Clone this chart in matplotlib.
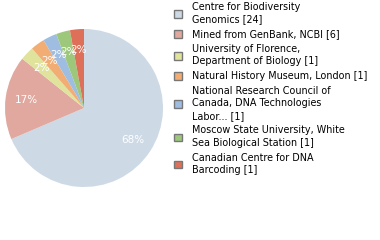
import matplotlib
matplotlib.use("Agg")
import matplotlib.pyplot as plt
from matplotlib.patches import Patch

labels = [
    "Centre for Biodiversity\nGenomics [24]",
    "Mined from GenBank, NCBI [6]",
    "University of Florence,\nDepartment of Biology [1]",
    "Natural History Museum, London [1]",
    "National Research Council of\nCanada, DNA Technologies\nLabor... [1]",
    "Moscow State University, White\nSea Biological Station [1]",
    "Canadian Centre for DNA\nBarcoding [1]",
]
values = [24, 6, 1, 1, 1, 1, 1]
colors = ["#cddae6", "#e0a89e", "#dfe39c", "#f1ad74", "#9fbde1", "#9dc87b", "#de7059"]

fig = plt.figure(figsize=(3.8, 2.4), dpi=100)
ax = fig.add_axes([5/380, 1 - 187/240, 158/380, 158/240])
wedges, texts, autotexts = ax.pie(
    values, colors=colors, startangle=90, counterclock=False,
    autopct=lambda p: f"{int(p)}%", pctdistance=0.74,
    textprops=dict(color="white", fontsize=7.5, family="DejaVu Sans"),
    wedgeprops=dict(linewidth=0),
)
ax.set_xlim(-1, 1)
ax.set_ylim(-1, 1)
ax.set_aspect("equal")

handles = [Patch(facecolor=c, edgecolor="#777777", linewidth=1) for c in colors]
leg = fig.legend(handles, labels, loc="upper left", bbox_to_anchor=(172/380, 1 - 0/240),
                 frameon=False, handlelength=0.85, handleheight=0.85,
                 handletextpad=1.0, labelspacing=0.5, borderaxespad=0, borderpad=0.2,
                 prop=dict(family="DejaVu Sans", size=6.9))
for t in leg.get_texts():
    t.set_linespacing(1.3)
fig.savefig("out.png", dpi=100)
